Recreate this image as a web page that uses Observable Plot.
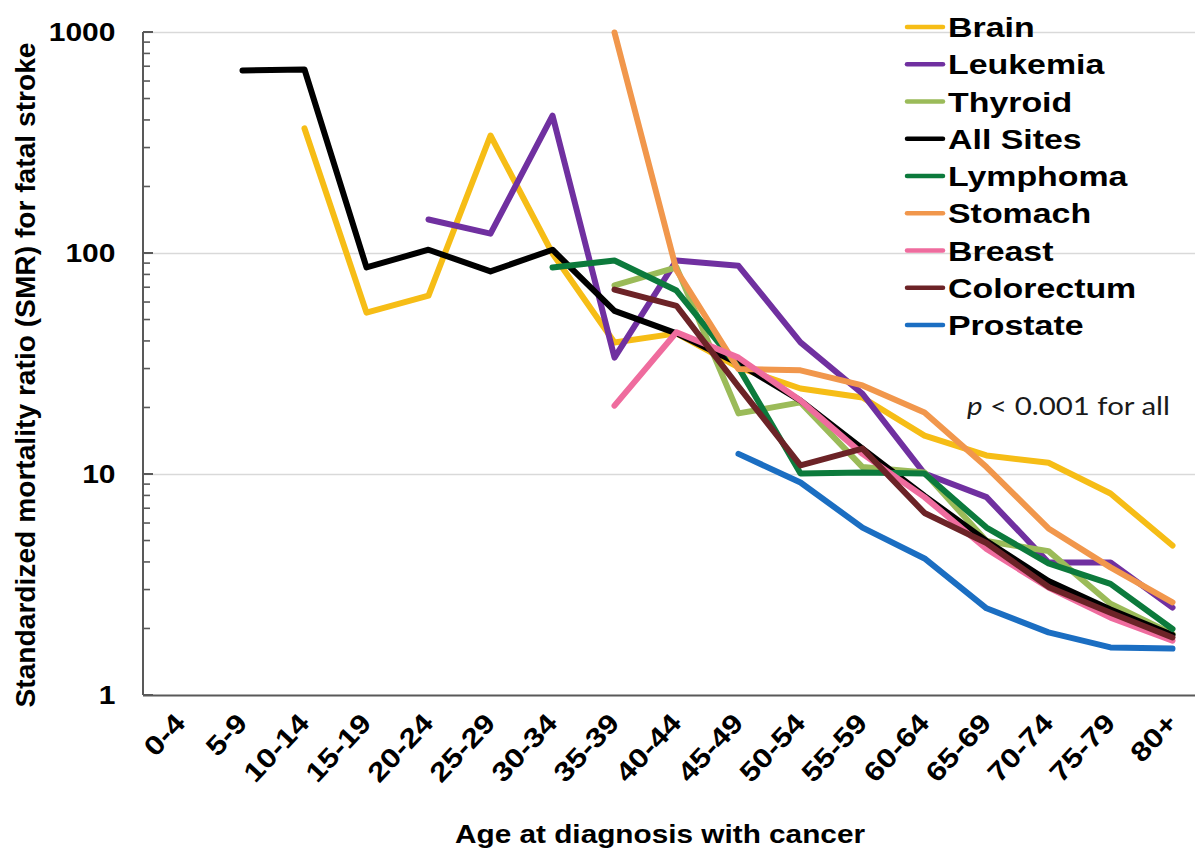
<!DOCTYPE html>
<html>
<head>
<meta charset="utf-8">
<script src="https://cdn.jsdelivr.net/npm/d3@7"></script>
<script src="https://cdn.jsdelivr.net/npm/@observablehq/plot@0.6"></script>
<style>
  html, body { margin: 0; padding: 0; background: #fff; }
  #chart { width: 1195px; height: 850px; overflow: hidden; }
</style>
</head>
<body>
<div id="chart"></div>
<script>
// ---- data ----
const ages = ["0-4","5-9","10-14","15-19","20-24","25-29","30-34","35-39","40-44","45-49","50-54","55-59","60-64","65-69","70-74","75-79","80+"];
const seriesNames = ["Brain","Leukemia","Thyroid","All Sites","Lymphoma","Stomach","Breast","Colorectum","Prostate"];
const seriesColors = ["#F6BD16","#7030A0","#9BBB59","#000000","#0C7A3C","#F1974C","#EF6C9E","#6C2327","#1B6EC2"];

const brain      = [null, null, 368, 54, 64.5, 342, 100, 39.6, 43.5, 30.5, 24.5, 22.3, 15, 12.2, 11.3, 8.2, 4.77];
const leukemia   = [null, null, null, null, 142.5, 123, 421, 33.8, 93, 88, 39.6, 23.2, 10.1, 7.9, 4.0, 4.0, 2.5];
const thyroid    = [null, null, null, null, null, null, null, 71.7, 86.5, 18.9, 21.2, 10.8, 10.2, 5.0, 4.5, 2.6, 1.9];
const allSites   = [null, 673, 680, 86.5, 104, 83, 104, 55, 43.5, 31.8, 21.6, 13.1, 8.0, 5.0, 3.3, 2.45, 1.88];
const lymphoma   = [null, null, null, null, null, null, 86.5, 93, 68, 30.5, 10.1, 10.2, 10.1, 5.75, 3.96, 3.2, 2.0];
const stomach    = [null, null, null, null, null, null, null, 1000, 84, 30, 29.6, 25.3, 19.1, 10.8, 5.7, 3.8, 2.64];
const breast     = [null, null, null, null, null, null, null, 20.5, 44, 33.8, 21.6, 12.4, 7.9, 4.6, 3.08, 2.25, 1.77];
const colorectum = [null, null, null, null, null, null, null, 68.7, 58, 25, 11, 13.1, 6.7, 4.9, 3.1, 2.37, 1.83];
const prostate   = [null, null, null, null, null, null, null, null, null, 12.4, 9.2, 5.75, 4.17, 2.48, 1.93, 1.65, 1.63];

const majorTicks = [1, 10, 100, 1000];
const minorTicks = [2,3,4,5,6,7,8,9,20,30,40,50,60,70,80,90,200,300,400,500,600,700,800,900];
const gridTicks  = [10, 100, 1000];

const yLabel = "Standardized mortality ratio (SMR) for fatal stroke";
const xLabel = "Age at diagnosis with cancer";

// ---- build long table ----
const seriesValues = [brain, leukemia, thyroid, allSites, lymphoma, stomach, breast, colorectum, prostate];
const rows = [];
seriesNames.forEach((name, k) => {
  seriesValues[k].forEach((v, i) => {
    if (v != null) rows.push({series: name, age: ages[i], smr: v});
  });
});

const axisColor = "#595959";
const boldFont = "'Liberation Sans', Arial, Helvetica, sans-serif";

// left axis line + inward log ticks, positioned by Plot's y scale
const leftAxis = (index, scales, values, dimensions) => {
  const {marginLeft, marginTop, height, marginBottom} = dimensions;
  const g = d3.create("svg:g").attr("stroke", axisColor);
  g.append("line")
    .attr("x1", marginLeft).attr("x2", marginLeft)
    .attr("y1", marginTop).attr("y2", height - marginBottom)
    .attr("stroke-width", 2);
  for (const t of minorTicks) {
    const y = scales.y(t);
    g.append("line").attr("x1", marginLeft).attr("x2", marginLeft + 7)
      .attr("y1", y).attr("y2", y).attr("stroke-width", 1.6);
  }
  for (const t of majorTicks) {
    const y = scales.y(t);
    g.append("line").attr("x1", marginLeft).attr("x2", marginLeft + 10)
      .attr("y1", y).attr("y2", y).attr("stroke-width", 2);
  }
  return g.node();
};

const chart = Plot.plot({
  width: 1195,
  height: 850,
  marginLeft: 143,
  marginRight: -13,
  marginTop: 32,
  marginBottom: 155,
  style: {background: "white", fontFamily: boldFont, color: "black", overflow: "hidden"},
  x: {type: "point", domain: ages, padding: 0.5},
  y: {type: "log", domain: [1, 1000]},
  color: {domain: seriesNames, range: seriesColors},
  marks: [
    Plot.ruleY(gridTicks, {stroke: "#d9d9d9", strokeWidth: 1.5}),
    Plot.ruleY([1], {stroke: axisColor, strokeWidth: 2}),
    leftAxis,
    Plot.axisY(majorTicks, {tickSize: 0, tickPadding: 28, fontSize: 25, fontWeight: "bold", fill: "black", tickFormat: d => String(d), label: null}),
    Plot.axisX(ages, {tickSize: 0, tickPadding: 23, tickRotate: -47, dx: 0, fontSize: 27, fontWeight: "bold", fill: "black", label: null}),
    Plot.line(rows, {x: "age", y: "smr", z: "series", stroke: "series", strokeWidth: 6, strokeLinejoin: "round"})
  ]
});

document.getElementById("chart").appendChild(chart);

const svg = d3.select(chart);

function stretch(sel, factor) {
  sel.each(function () {
    const L = this.getComputedTextLength();
    this.setAttribute("textLength", L * factor);
    this.setAttribute("lengthAdjust", "spacingAndGlyphs");
  });
}
function fit(sel, len) {
  sel.attr("textLength", len).attr("lengthAdjust", "spacingAndGlyphs");
}

stretch(svg.selectAll('g[aria-label="x-axis tick label"] text'), 1.18);
stretch(svg.selectAll('g[aria-label="y-axis tick label"] text'), 1.2);

// axis titles
const yl = svg.append("text")
  .attr("transform", "translate(35,375) rotate(-90)")
  .attr("text-anchor", "middle")
  .attr("font-family", boldFont).attr("font-weight", "bold").attr("font-size", 28)
  .attr("fill", "black")
  .text(yLabel);
fit(yl, 665);

const xl = svg.append("text")
  .attr("x", 660).attr("y", 843)
  .attr("text-anchor", "middle")
  .attr("font-family", boldFont).attr("font-weight", "bold").attr("font-size", 25)
  .attr("fill", "black")
  .text(xLabel);
fit(xl, 410);

// legend
const legend = svg.append("g").attr("aria-label", "legend").attr("text-anchor", "start");
seriesNames.forEach((name, k) => {
  const cy = 27 + k * 37.25;
  legend.append("line")
    .attr("x1", 907).attr("x2", 943).attr("y1", cy).attr("y2", cy)
    .attr("stroke", seriesColors[k]).attr("stroke-width", 4.5).attr("stroke-linecap", "round");
  const t = legend.append("text")
    .attr("x", 948).attr("y", cy + 10)
    .attr("text-anchor", "start")
    .attr("font-family", boldFont).attr("font-weight", "bold").attr("font-size", 28)
    .attr("fill", "black")
    .text(name);
  stretch(t, 1.21);
});

// annotation
const note = svg.append("text")
  .attr("x", 967).attr("y", 415)
  .attr("text-anchor", "start")
  .attr("font-family", "Lato, 'Open Sans', sans-serif").attr("font-size", 25)
  .attr("fill", "#1a1a1a");
note.append("tspan").attr("font-style", "italic").text("p");
note.append("tspan").text(" < 0.001 for all");
fit(note, 203);
</script>
</body>
</html>
